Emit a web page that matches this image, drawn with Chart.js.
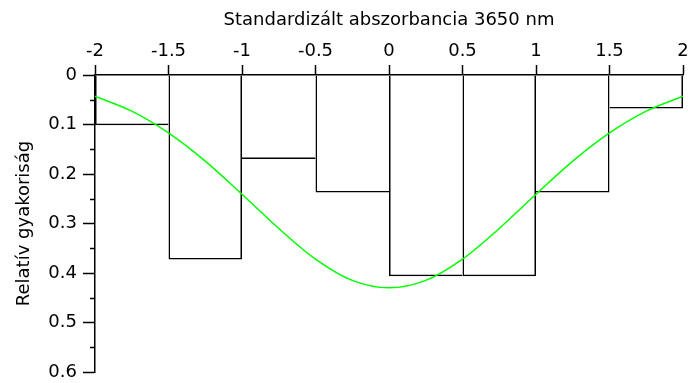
<!DOCTYPE html>
<html>
<head>
<meta charset="utf-8">
<script src="https://cdn.jsdelivr.net/npm/chart.js@4.4.1/dist/chart.umd.min.js"></script>
<style>
  html, body { margin: 0; padding: 0; background: #fff; }
</style>
</head>
<body>
<canvas id="histChart" width="693" height="383"></canvas>
<script>
// histogram bins (standardized absorbance) and their relative frequency
const binEdges = [-2, -1.5, -1, -0.5, 0, 0.5, 1, 1.5, 2];
const relFreq = [0.1017, 0.3729, 0.1695, 0.2373, 0.4068, 0.4068, 0.2373, 0.0678];

// fitted density curve
const curveX = [-2, -1.75, -1.5, -1.25, -1, -0.75, -0.5, -0.25, 0, 0.25, 0.5, 0.75, 1, 1.25, 1.5, 1.75, 2];
const curveY = [0.043, 0.073, 0.117, 0.174, 0.241, 0.310, 0.372, 0.415, 0.430, 0.415, 0.372, 0.310, 0.241, 0.174, 0.117, 0.073, 0.043];

const xTickValues = [-2, -1.5, -1, -0.5, 0, 0.5, 1, 1.5, 2];
const xTickLabels = ["-2", "-1.5", "-1", "-0.5", "0", "0.5", "1", "1.5", "2"];
const yTickValues = [0, 0.1, 0.2, 0.3, 0.4, 0.5, 0.6];
const yTickLabels = ["0", "0.1", "0.2", "0.3", "0.4", "0.5", "0.6"];
const yMinorTicks = [0.05, 0.15, 0.25, 0.35, 0.45, 0.55];

const LINE_W = 1.5;
const FONT = { family: "DejaVu Sans", size: 18 };

// pick the label whose tick value is closest to v
const labelFor = (values, labels) => (v) => {
  let best = 0;
  values.forEach((t, i) => {
    if (Math.abs(t - v) < Math.abs(values[best] - v)) best = i;
  });
  return labels[best];
};

// only the taller of two neighbouring bars draws the shared edge
const barBorder = (ctx) => {
  if (ctx.type !== "data") return LINE_W;
  const i = ctx.dataIndex;
  const h = relFreq[i];
  const prev = i > 0 ? relFreq[i - 1] : -1;
  const next = i < relFreq.length - 1 ? relFreq[i + 1] : -1;
  return {
    top: 0,
    bottom: LINE_W,
    left: h >= prev ? LINE_W : 0,
    right: h > next ? LINE_W : 0,
  };
};

// short ticks between the labelled ones on the y axis
const minorTicks = {
  id: "minorTicks",
  afterDraw(chart) {
    const y = chart.scales.y;
    const ctx = chart.ctx;
    ctx.save();
    ctx.strokeStyle = "#000";
    ctx.lineWidth = LINE_W;
    yMinorTicks.forEach((v) => {
      const py = Math.round(y.getPixelForValue(v)) + 0.5;
      ctx.beginPath();
      ctx.moveTo(y.right - 5, py);
      ctx.lineTo(y.right, py);
      ctx.stroke();
    });
    ctx.restore();
  },
};

const ctx = document.getElementById("histChart").getContext("2d");
const chart = new Chart(ctx, {
  type: "bar",
  data: {
    datasets: [
      {
        type: "line",
        data: curveX.map((x, i) => ({ x: x, y: curveY[i] })),
        borderColor: "#00ff00",
        borderWidth: 1.5,
        pointRadius: 0,
        cubicInterpolationMode: "monotone",
        fill: false,
        order: 0,
      },
      {
        type: "bar",
        data: relFreq.map((h, i) => ({ x: (binEdges[i] + binEdges[i + 1]) / 2, y: h })),
        backgroundColor: "rgba(0,0,0,0)",
        borderColor: "#000",
        borderWidth: barBorder,
        borderSkipped: false,
        inflateAmount: 0,
        barPercentage: 1,
        categoryPercentage: 1,
        order: 1,
      },
    ],
  },
  options: {
    responsive: false,
    animation: false,
    devicePixelRatio: 1,
    layout: { padding: { left: 0, right: 10, top: 0, bottom: 11 } },
    plugins: {
      legend: { display: false },
      tooltip: { enabled: false },
    },
    scales: {
      x: {
        type: "linear",
        position: "top",
        min: -2,
        max: 2,
        offset: false,
        afterFit: (s) => {
          s.height = 75;
          s.paddingLeft = 0;
          s.paddingRight = 0;
        },
        ticks: {
          stepSize: 0.5,
          autoSkip: false,
          maxRotation: 0,
          padding: 3,
          color: "#000",
          font: FONT,
          callback: labelFor(xTickValues, xTickLabels),
        },
        grid: {
          offset: false,
          drawOnChartArea: false,
          drawTicks: true,
          tickLength: 10,
          tickColor: "#000",
          tickWidth: LINE_W,
        },
        border: { display: true, color: "#000", width: LINE_W },
        title: {
          display: true,
          text: "Standardizált abszorbancia 3650 nm",
          color: "#000",
          font: FONT,
          padding: { top: 10, bottom: 0 },
        },
      },
      y: {
        type: "linear",
        position: "left",
        reverse: true,
        min: 0,
        max: 0.6,
        afterFit: (s) => {
          s.width = 95;
          s.paddingTop = 0;
          s.paddingBottom = 0;
        },
        ticks: {
          stepSize: 0.1,
          padding: 6,
          color: "#000",
          font: FONT,
          callback: labelFor(yTickValues, yTickLabels),
        },
        grid: {
          drawOnChartArea: false,
          drawTicks: true,
          tickLength: 12,
          tickColor: "#000",
          tickWidth: LINE_W,
        },
        border: { display: true, color: "#000", width: LINE_W },
        title: {
          display: true,
          text: "Relatív gyakoriság",
          color: "#000",
          font: FONT,
          padding: { top: 14, bottom: 0 },
        },
      },
    },
  },
  plugins: [minorTicks],
});
</script>
</body>
</html>
